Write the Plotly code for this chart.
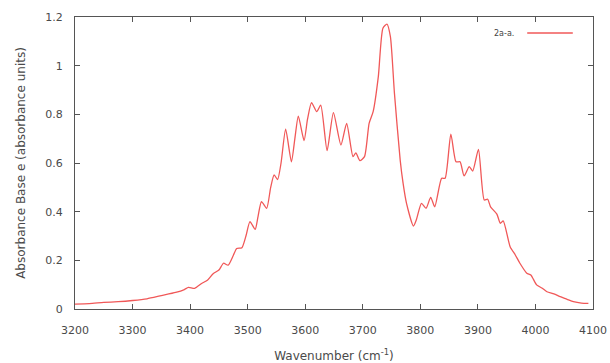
import plotly.graph_objects as go

wavenumber = [3200, 3225, 3250, 3275, 3300, 3325, 3350, 3375, 3390, 3397, 3408, 3420, 3430, 3440,
              3450, 3458, 3466, 3475, 3481, 3490, 3497, 3504, 3513, 3518, 3524, 3533, 3540, 3546,
              3552, 3558, 3566, 3576, 3582, 3588, 3598, 3604, 3611, 3620, 3627, 3638, 3649, 3662,
              3672, 3683, 3688, 3695, 3703, 3711, 3718, 3727, 3735, 3742, 3748, 3755, 3765, 3770,
              3776, 3788, 3793, 3802, 3810, 3818, 3825, 3837, 3843, 3853, 3862, 3869, 3876, 3885,
              3891, 3901, 3911, 3917, 3922, 3933, 3939, 3944, 3956, 3965, 3973, 3985, 3992, 4002,
              4012, 4020, 4032, 4043, 4055, 4066, 4080, 4092]
absorbance = [0.020, 0.022, 0.027, 0.030, 0.035, 0.042, 0.055, 0.068, 0.080, 0.089, 0.085, 0.105, 0.118, 0.145,
              0.160, 0.188, 0.180, 0.220, 0.249, 0.252, 0.300, 0.359, 0.327, 0.380, 0.441, 0.414, 0.500, 0.551,
              0.532, 0.600, 0.739, 0.605, 0.700, 0.793, 0.692, 0.780, 0.848, 0.811, 0.838, 0.651, 0.807, 0.674,
              0.763, 0.626, 0.642, 0.610, 0.626, 0.763, 0.811, 0.955, 1.154, 1.171, 1.119, 0.887, 0.612, 0.517,
              0.434, 0.341, 0.366, 0.434, 0.414, 0.459, 0.420, 0.537, 0.537, 0.719, 0.605, 0.605, 0.547, 0.585,
              0.567, 0.656, 0.448, 0.451, 0.420, 0.390, 0.352, 0.362, 0.256, 0.222, 0.188, 0.147, 0.140, 0.099,
              0.085, 0.071, 0.062, 0.051, 0.040, 0.030, 0.024, 0.023]

x_ticks = [3200, 3300, 3400, 3500, 3600, 3700, 3800, 3900, 4000, 4100]
y_ticks = [0, 0.2, 0.4, 0.6, 0.8, 1, 1.2]
y_tick_labels = ["0", "0.2", "0.4", "0.6", "0.8", "1", "1.2"]
series_name = "2a-a."

line_color = "rgb(240,88,88)"
axis_color = "#555555"
font = dict(family="DejaVu Sans, sans-serif", size=11, color="#4a4a4a")

fig = go.Figure()
fig.add_trace(go.Scatter(x=wavenumber, y=absorbance, mode="lines", name=series_name,
                         line=dict(color=line_color, width=1.3, shape="spline", smoothing=0.6),
                         showlegend=False))

fig.update_layout(
    width=610, height=363,
    margin=dict(l=75, r=17, t=17, b=54),
    paper_bgcolor="white", plot_bgcolor="white",
    font=font,
    xaxis=dict(range=[3200, 4100], tickvals=x_ticks, ticktext=[str(v) for v in x_ticks],
               ticks="inside", ticklen=5, tickcolor=axis_color, showline=True, linecolor=axis_color,
               linewidth=1.3, mirror="allticks", showgrid=False, zeroline=False,
               ticklabelstandoff=11, automargin=False,
               title=dict(text="Wavenumber (cm<sup>-1</sup>)", standoff=16, font=dict(size=12))),
    yaxis=dict(range=[0, 1.2], tickvals=y_ticks, ticktext=y_tick_labels,
               ticks="inside", ticklen=5, tickcolor=axis_color, showline=True, linecolor=axis_color,
               linewidth=1.3, mirror="allticks", showgrid=False, zeroline=False,
               ticklabelstandoff=9, automargin=False,
               title=dict(text="Absorbance Base e (absorbance units)", standoff=16, font=dict(size=12))),
)

# legend drawn gnuplot-style: text to the left of the line sample
fig.add_annotation(xref="paper", yref="paper", x=0.852, y=0.945, text=series_name,
                   showarrow=False, xanchor="right", yanchor="middle", font=dict(size=8, color="#444444"))
fig.add_shape(type="line", xref="paper", yref="paper", x0=0.873, x1=0.961, y0=0.945, y1=0.945,
              line=dict(color=line_color, width=1.5))

fig.write_html("out.html")
